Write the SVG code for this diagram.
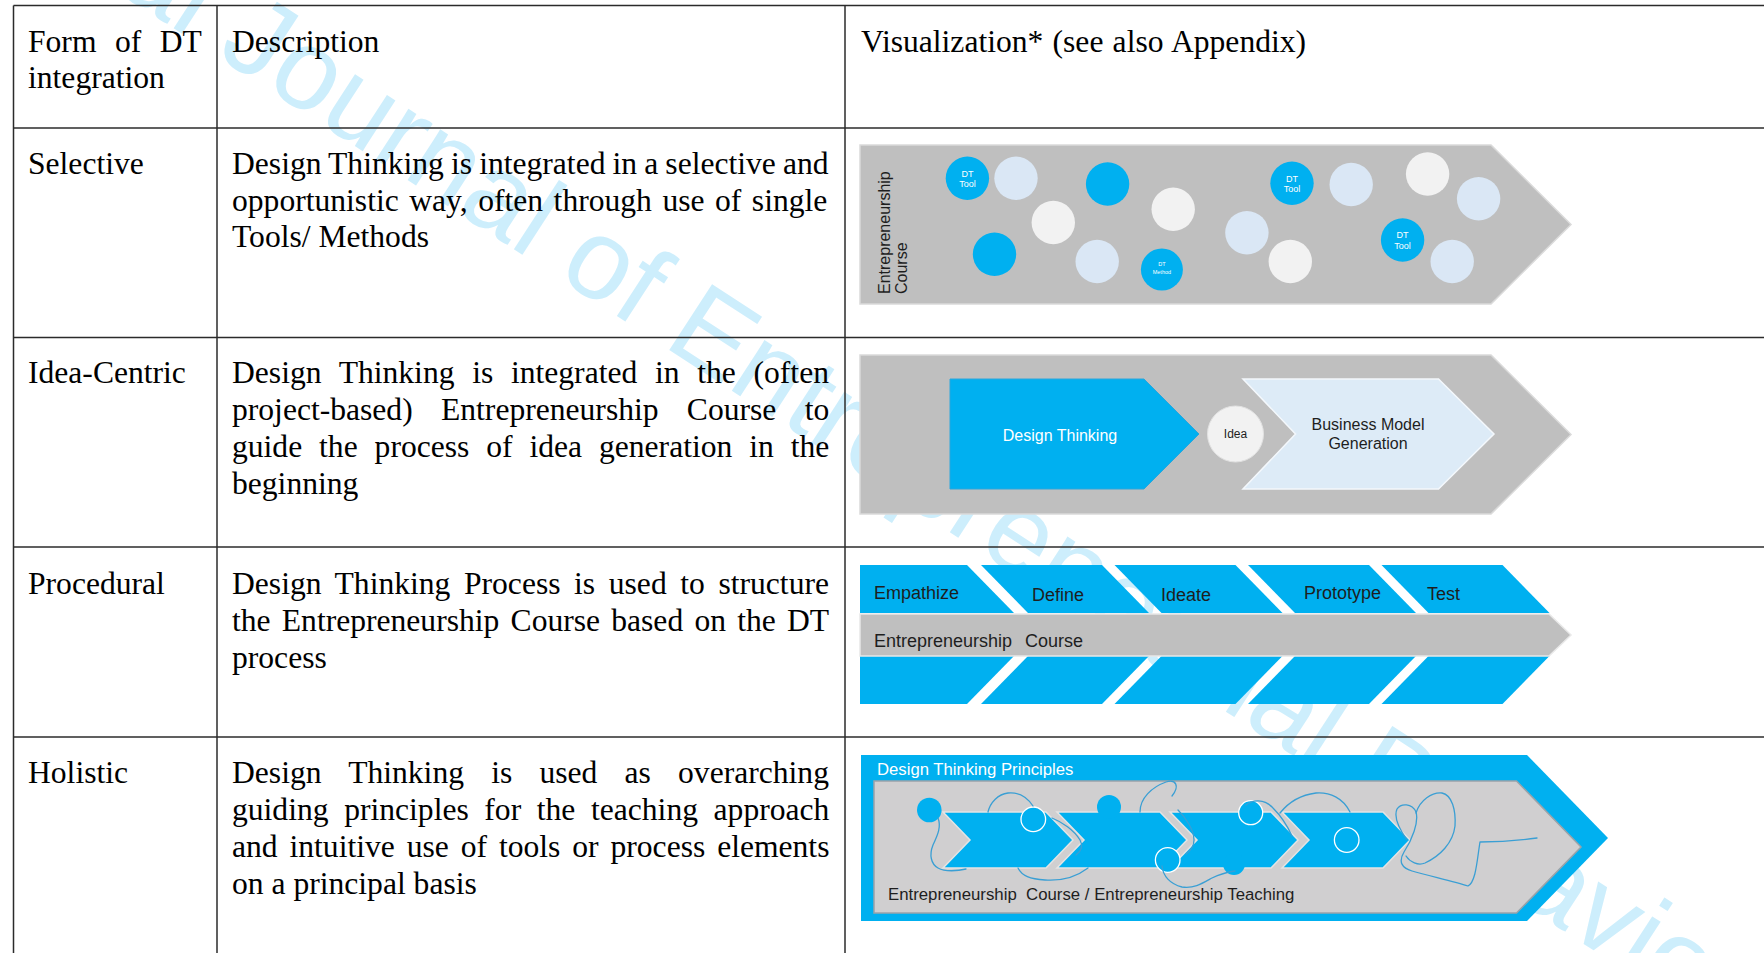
<svg xmlns="http://www.w3.org/2000/svg" width="1764" height="953" viewBox="0 0 1764 953">
  <style>
    .cell { font-family: "Liberation Serif", "Times New Roman", serif; font-size: 31.6px; fill: #000; }
    .grid { stroke: #2b2b2b; stroke-width: 1.5; fill: none; }
    .sans { font-family: "Liberation Sans", Arial, sans-serif; }
    .ink { fill: #1e1e1e; }
    .blue { fill: #00b0f0; }
    .pale { fill: #dae7f5; }
    .white { fill: #f2f2f2; }
    .course { fill: #bfbfbf; stroke: #dadada; stroke-width: 1.5; }
    .chev { fill: #00b0f0; stroke: #e4e4e4; stroke-width: 1.5; }
    .ring { fill: #00b0f0; stroke: #ffffff; stroke-width: 1.3; }
    .scribble { fill: none; stroke: #3a9fd4; stroke-width: 1.3; stroke-linecap: round; stroke-linejoin: round; }
    .tag { font-family: "Liberation Sans", Arial, sans-serif; fill: #ffffff; text-anchor: middle; }
  </style>

  <rect width="1764" height="953" fill="#ffffff"/>

  <!-- journal name watermark, behind the table -->
  <g id="watermark">
    <text transform="translate(215,55) rotate(33)" x="-659" y="0" font-family="Liberation Sans, Arial, sans-serif" font-size="114" fill="#cdeefc">International Journal of Entrepreneurial Behavior</text>
  </g>

  <!-- table rules -->
  <g id="table-grid" class="grid">
    <line x1="13.5" y1="5.5" x2="1764" y2="5.5"/>
    <line x1="13.5" y1="128" x2="1764" y2="128"/>
    <line x1="13.5" y1="337.5" x2="1764" y2="337.5"/>
    <line x1="13.5" y1="547" x2="1764" y2="547"/>
    <line x1="13.5" y1="737" x2="1764" y2="737"/>
    <line x1="13.5" y1="5.5" x2="13.5" y2="953"/>
    <line x1="217" y1="5.5" x2="217" y2="953"/>
    <line x1="845" y1="5.5" x2="845" y2="953"/>
  </g>

  <!-- header row -->
  <g id="header" class="cell">
    <text x="28" y="52" word-spacing="10.6">Form of DT</text>
    <text x="28" y="88">integration</text>
    <text x="232" y="52">Description</text>
    <text x="861" y="52" word-spacing="1.3">Visualization* (see also Appendix)</text>
  </g>

  <!-- row: Selective -->
  <g id="row-selective" class="cell">
    <text x="28" y="174">Selective</text>
    <text x="232" y="174" word-spacing="-0.8">Design Thinking is integrated in a selective and</text>
    <text x="232" y="210.5" word-spacing="2.6">opportunistic way, often through use of single</text>
    <text x="232" y="247">Tools/ Methods</text>
  </g>

  <g id="viz-selective">
    <polygon class="course" points="860,145 1491,145 1571,224.5 1491,304 860,304"/>
    <text class="sans ink" font-size="16" transform="translate(890,294) rotate(-90)">Entrepreneurship</text>
    <text class="sans ink" font-size="16" transform="translate(907,294) rotate(-90)">Course</text>
    <circle class="pale" cx="1016" cy="178.3" r="21.7"/>
    <circle class="white" cx="1053.3" cy="222.5" r="21.7"/>
    <circle class="blue" cx="994.5" cy="254.3" r="21.7"/>
    <circle class="blue" cx="1107.6" cy="184" r="21.7"/>
    <circle class="pale" cx="1097.2" cy="261.5" r="21.7"/>
    <circle class="white" cx="1173.2" cy="209.3" r="21.7"/>
    <circle class="pale" cx="1246.9" cy="232.7" r="21.7"/>
    <circle class="white" cx="1290.3" cy="261.5" r="21.7"/>
    <circle class="pale" cx="1351.2" cy="184.5" r="21.7"/>
    <circle class="white" cx="1427.6" cy="174" r="21.7"/>
    <circle class="pale" cx="1478.6" cy="198.7" r="21.7"/>
    <circle class="pale" cx="1452.2" cy="261.5" r="21.7"/>
    <g id="dt-tool-1">
      <circle class="blue" cx="967.4" cy="178.3" r="21.7"/>
      <text class="tag" font-size="9" x="967.4" y="176.5">DT</text>
      <text class="tag" font-size="9" x="967.4" y="187">Tool</text>
    </g>
    <g id="dt-method">
      <circle class="blue" cx="1161.9" cy="269.5" r="21"/>
      <text class="tag" font-size="5.5" x="1161.9" y="266">DT</text>
      <text class="tag" font-size="5.5" x="1161.9" y="274">Method</text>
    </g>
    <g id="dt-tool-2">
      <circle class="blue" cx="1292" cy="183.3" r="21.7"/>
      <text class="tag" font-size="9" x="1292" y="181.5">DT</text>
      <text class="tag" font-size="9" x="1292" y="192">Tool</text>
    </g>
    <g id="dt-tool-3">
      <circle class="blue" cx="1402.6" cy="240" r="21.7"/>
      <text class="tag" font-size="9" x="1402.6" y="238.2">DT</text>
      <text class="tag" font-size="9" x="1402.6" y="248.7">Tool</text>
    </g>
  </g>

  <!-- row: Idea-Centric -->
  <g id="row-idea-centric" class="cell">
    <text x="28" y="383">Idea-Centric</text>
    <text x="232" y="383" word-spacing="9.8">Design Thinking is integrated in the (often</text>
    <text x="232" y="420" word-spacing="20.4">project-based) Entrepreneurship Course to</text>
    <text x="232" y="457" word-spacing="9">guide the process of idea generation in the</text>
    <text x="232" y="494">beginning</text>
  </g>

  <g id="viz-idea-centric">
    <polygon class="course" points="860,355 1491,355 1571,434.5 1491,514 860,514"/>
    <g id="design-thinking">
      <polygon fill="#00b0f0" stroke="#2aa6dc" stroke-width="1" points="950,379 1144,379 1199,434 1144,489 950,489"/>
      <text class="sans" font-size="16" fill="#ffffff" text-anchor="middle" x="1060" y="440.5">Design Thinking</text>
    </g>
    <g id="idea">
      <circle cx="1235.5" cy="434" r="28" fill="#f2f2f2" stroke="#e2e2e2" stroke-width="1"/>
      <text class="sans ink" font-size="12" text-anchor="middle" x="1235.5" y="438.2">Idea</text>
    </g>
    <g id="business-model-generation">
      <polygon fill="#ddebf7" stroke="#f4f8fc" stroke-width="1.5" points="1243,379 1438.5,379 1494,434 1438.5,489 1243,489 1295.5,434"/>
      <text class="sans ink" font-size="16" text-anchor="middle" x="1368" y="430">Business Model</text>
      <text class="sans ink" font-size="16" text-anchor="middle" x="1368" y="449">Generation</text>
    </g>
  </g>

  <!-- row: Procedural -->
  <g id="row-procedural" class="cell">
    <text x="28" y="593.5">Procedural</text>
    <text x="232" y="593.5" word-spacing="5.7">Design Thinking Process is used to structure</text>
    <text x="232" y="630.5" word-spacing="3.3">the Entrepreneurship Course based on the DT</text>
    <text x="232" y="667.5">process</text>
  </g>

  <g id="viz-procedural">
    <g id="phase-bands" class="blue">
      <polygon points="860,565 967,565 1014,613 860,613"/>
      <polygon points="981,565 1102,565 1149,613 1028,613"/>
      <polygon points="1114.5,565 1235.5,565 1282.5,613 1161.5,613"/>
      <polygon points="1248,565 1369,565 1416,613 1295,613"/>
      <polygon points="1381.5,565 1502.5,565 1549.5,613 1428.5,613"/>
      <polygon points="860,656 1014,656 967,704 860,704"/>
      <polygon points="1028,656 1149,656 1102,704 981,704"/>
      <polygon points="1161.5,656 1282.5,656 1235.5,704 1114.5,704"/>
      <polygon points="1295,656 1416,656 1369,704 1248,704"/>
      <polygon points="1428.5,656 1549.5,656 1502.5,704 1381.5,704"/>
    </g>
    <polygon fill="#bfbfbf" stroke="#e8e8e8" stroke-width="1.5" points="860,614 1549,614 1571,635 1549,656 860,656"/>
    <g class="sans ink" font-size="18">
      <text x="874" y="599">Empathize</text>
      <text x="1032" y="601">Define</text>
      <text x="1161" y="601">Ideate</text>
      <text x="1304" y="599">Prototype</text>
      <text x="1427" y="600">Test</text>
      <text x="874" y="647">Entrepreneurship<tspan x="1025">Course</tspan></text>
    </g>
  </g>

  <!-- row: Holistic -->
  <g id="row-holistic" class="cell">
    <text x="28" y="782.5">Holistic</text>
    <text x="232" y="782.5" word-spacing="19.3">Design Thinking is used as overarching</text>
    <text x="232" y="819.5" word-spacing="7.7">guiding principles for the teaching approach</text>
    <text x="232" y="856.5" word-spacing="4">and intuitive use of tools or process elements</text>
    <text x="232" y="893.5">on a principal basis</text>
  </g>

  <g id="viz-holistic">
    <polygon fill="#00b0f0" points="861,755 1527,755 1608,838 1527,921 861,921"/>
    <text class="sans" font-size="16.7" fill="#ffffff" x="877" y="775">Design Thinking Principles</text>
    <polygon fill="#d0cfd0" stroke="#9aa3a9" stroke-width="1.5" points="874,781 1516.5,781 1581,847 1516.5,913 874,913"/>

    <g id="process-chevrons">
      <polygon class="chev" points="943,812 1046,812 1073,840 1046,868 943,868 970,840"/>
      <polygon class="chev" points="1057,812 1160,812 1187,840 1160,868 1057,868 1084,840"/>
      <polygon class="chev" points="1170,812 1271,812 1298,840 1271,868 1170,868 1197,840"/>
      <polygon class="chev" points="1282,812 1383,812 1410,840 1383,868 1282,868 1309,840"/>
    </g>

    <g id="tool-dots">
      <circle class="blue" cx="929.3" cy="810" r="12.3"/>
      <circle class="blue" cx="1109" cy="807" r="12"/>
      <circle class="blue" cx="1234" cy="864" r="11"/>
      <circle class="ring" cx="1033.3" cy="819.3" r="12.3"/>
      <circle class="ring" cx="1250.7" cy="812.7" r="12"/>
      <circle class="ring" cx="1167.7" cy="860" r="12.3"/>
      <circle class="ring" cx="1346.7" cy="840" r="12.3"/>
    </g>

    <!-- free-hand connections between tools -->
    <g id="scribbles" class="scribble">
      <path d="M938,818 C942,828 936,838 933,845 C929,855 931,864 938,868 C945,872 958,871 966,869"/>
      <path d="M988,812 C990,803 998,794 1008,793 C1018,792 1027,797 1033,806"/>
      <path d="M1052,818 C1062,822 1074,830 1080,840 C1084,847 1080,852 1076,855"/>
      <path d="M1018,868 C1022,876 1030,879 1045,880 C1060,881 1075,878 1088,868"/>
      <path d="M1140,812 C1140,798 1152,787 1166,782 C1176,779 1180,786 1172,796"/>
      <path d="M1178,810 C1186,818 1194,830 1194,840 C1194,846 1190,851 1186,854"/>
      <path d="M1162,866 C1163,876 1170,884 1182,887 C1194,889 1203,883 1212,878 C1220,874 1228,872 1235,871"/>
      <path d="M1246,805 C1252,800 1264,798 1273,808 C1280,815 1287,825 1292,836"/>
      <path d="M1280,813 C1288,803 1300,795 1316,793 C1330,792 1343,798 1350,812"/>
      <path d="M1407,840 C1400,830 1393,818 1397,809 C1401,803 1412,803 1416,812 C1419,822 1412,840 1404,852 C1398,862 1402,868 1412,871 C1430,876 1455,882 1468,886 C1476,882 1477,860 1480,842 C1492,842 1515,841 1537,838"/>
      <path d="M1416,813 C1420,800 1432,792 1442,793 C1452,795 1456,810 1455,826 C1453,843 1440,856 1425,863 C1418,866 1410,862 1406,856"/>
    </g>

    <text class="sans ink" font-size="16.8" x="888" y="900" xml:space="preserve">Entrepreneurship  Course / Entrepreneurship Teaching</text>
  </g>
</svg>
